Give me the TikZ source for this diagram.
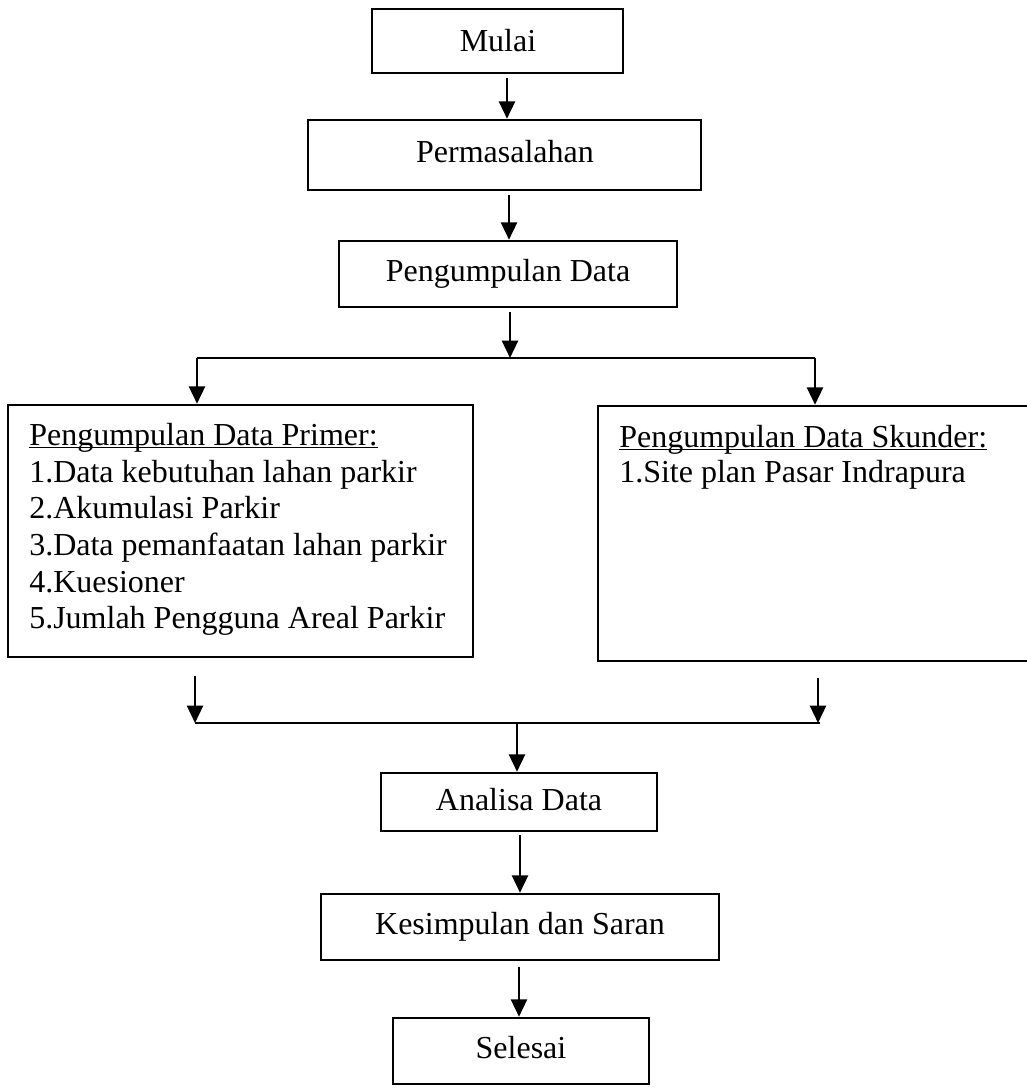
\documentclass[tikz,border=0pt]{standalone}
\usepackage{fontspec}
\setmainfont{Liberation Serif}
\usetikzlibrary{arrows.meta,fit}
\begin{document}
\begin{tikzpicture}[x=0.75pt,y=-0.75pt,
  box/.style={draw, line width=1.9pt, inner sep=0pt},
  txt/.style={inner sep=0pt, font=\fontsize{24}{27.5}\selectfont, anchor=base west},
  ctr/.style={inner sep=0pt, font=\fontsize{24}{27.5}\selectfont, anchor=center},
  arr/.style={line width=1.8pt, -{Triangle[length=13pt,width=12pt]}},
  ln/.style={line width=1.8pt},
  ul/.style={line width=1.2pt},
]
\useasboundingbox (0,0) rectangle (1027,1088);

% boxes
\node[box, fit={(372,9)(623,73)}] (mulai) {};
\node[box, fit={(308,120)(701,190)}] (perm) {};
\node[box, fit={(339,241)(677,307)}] (pd) {};
\node[box, fit={(8,405)(473,657)}] (prim) {};
\node[box, fit={(598,406)(1040,661)}] (sek) {};
\node[box, fit={(381,773)(657,831)}] (anal) {};
\node[box, fit={(321,894)(719,960)}] (kes) {};
\node[box, fit={(393,1018)(649,1084)}] (sel) {};

% box texts
\node[txt, anchor=base] (mulaitxt) at (498,52) {Mulai};
\node[txt, anchor=base] (permtxt) at (505,162) {Permasalahan};
\node[txt, anchor=base] (pdtxt) at (508,281) {Pengumpulan Data};
\node[txt, anchor=base] (analtxt) at (519,810) {Analisa Data};
\node[txt, anchor=base] (kestxt) at (520,934) {Kesimpulan dan Saran};
\node[txt, anchor=base] (seltxt) at (521,1058) {Selesai};

% primary data text
\node[txt] (p0) at (29,445) {Pengumpulan Data Primer:};
\node[txt] (p1) at (29,482) {1.Data kebutuhan lahan parkir};
\node[txt] (p2) at (29,518) {2.Akumulasi Parkir};
\node[txt] (p3) at (29,555) {3.Data pemanfaatan lahan parkir};
\node[txt] (p4) at (29,592) {4.Kuesioner};
\node[txt] (p5) at (29,628) {5.Jumlah Pengguna Areal Parkir};
\draw[ul] ([yshift=-1.8pt]p0.base west) -- ([yshift=-1.8pt]p0.base east);

% secondary data text
\node[txt] (s0) at (619,447) {Pengumpulan Data Skunder:};
\node[txt] (s1) at (619,482) {1.Site plan Pasar Indrapura};
\draw[ul] ([yshift=-1.8pt]s0.base west) -- ([yshift=-1.8pt]s0.base east);

% connectors
\coordinate (c1) at (507,0);
\draw[arr, shorten <=3pt] (c1 |- mulai.south) -- (c1 |- perm.north);
\coordinate (c2) at (509,0);
\draw[arr, shorten <=3pt] (c2 |- perm.south) -- (c2 |- pd.north);

\coordinate (sm) at (510,358);
\coordinate (sl) at (197,358);
\coordinate (sr) at (815,358);
\draw[arr, shorten <=3pt] (sm |- pd.south) -- (sm);
\draw[ln] (sl) -- (sr);
\draw[arr] (sl) -- (sl |- prim.north);
\draw[arr] (sr) -- (sr |- sek.north);

\coordinate (jl) at (195,723);
\coordinate (jr) at (818,723);
\coordinate (jm) at (517,723);
\draw[arr, shorten <=13pt] (jl |- prim.south) -- (jl);
\draw[arr, shorten <=12pt] (jr |- sek.south) -- (jr);
\draw[ln] (jl) -- ([xshift=1.5pt]jr);
\draw[arr] (jm) -- (jm |- anal.north);

\coordinate (c3) at (520,0);
\draw[arr, shorten <=2pt] (c3 |- anal.south) -- (c3 |- kes.north);
\coordinate (c4) at (519,0);
\draw[arr, shorten <=4pt] (c4 |- kes.south) -- (c4 |- sel.north);
\end{tikzpicture}
\end{document}
